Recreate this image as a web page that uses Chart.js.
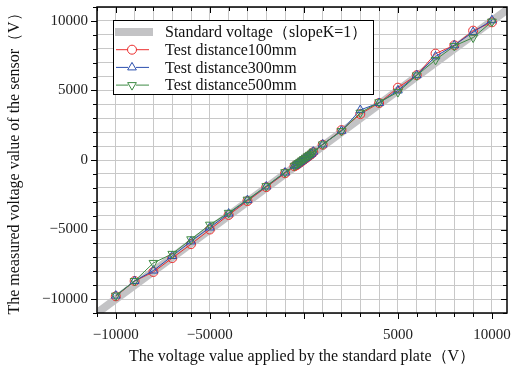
<!DOCTYPE html>
<html>
<head>
<meta charset="utf-8">
<script src="https://cdn.jsdelivr.net/npm/chart.js@4/dist/chart.umd.min.js"></script>
<style>
  body { margin: 0; background: #fff; }
  canvas { display: block; }
</style>
</head>
<body>
<canvas id="myChart" width="513" height="370"></canvas>
<script>
// applied voltage (x)
const xValues = [-10000, -9000, -8000, -7000, -6000, -5000, -4000, -3000, -2000, -1000,
  -500, -400, -300, -200, -100, 0, 100, 200, 300, 400, 500,
  1000, 2000, 3000, 4000, 5000, 6000, 7000, 8000, 9000, 10000];

// measured voltage per test distance
const dist100 = [-9800, -8700, -8050, -7050, -6050, -5000, -3950, -2950, -1950, -950,
  -450, -380, -280, -180, -80, 20, 120, 220, 320, 420, 560,
  1100, 2150, 3300, 4100, 5200, 6100, 7650, 8250, 9300, 9900];
const dist300 = [-9750, -8700, -7950, -6900, -5850, -4850, -3850, -2880, -1900, -900,
  -420, -350, -250, -150, -50, 50, 150, 250, 350, 450, 600,
  1120, 2100, 3600, 4100, 5000, 6100, 7450, 8250, 9200, 10050];
const dist500 = [-9750, -8700, -7400, -6750, -5700, -4650, -3800, -2850, -1880, -880,
  -420, -330, -230, -130, -30, 70, 170, 270, 370, 460, 600,
  1120, 2080, 3400, 4150, 4880, 6080, 7200, 8200, 8800, 9950];

// standard line (slope K = 1)
const standardX = [-11000, 11000];
const standardY = [-11000, 11000];

const xTickValues = [-10000, -5000, 0, 5000, 10000];
const xTickLabels = ['−10000', '−50000', '', '5000', '10000'];
const yTickValues = [-10000, -5000, 0, 5000, 10000];
const yTickLabels = ['−10000', '−5000', '0', '5000', '10000'];
const xGridValues = [-11000, -10000, -9000, -8000, -7000, -6000, -5000, -4000, -3000, -2000, -1000,
  0, 1000, 2000, 3000, 4000, 5000, 6000, 7000, 8000, 9000, 10000];

const seriesNames = ['Standard voltage（slopeK=1）', 'Test distance100mm', 'Test distance300mm', 'Test distance500mm'];

const SERIF = '"Liberation Serif", "DejaVu Serif", serif';

function toPoints(xs, ys) {
  return xs.map((x, i) => ({ x: x, y: ys[i] }));
}

function drawMarker(ctx, style, rot, x, y, r) {
  ctx.beginPath();
  if (style === 'circle') {
    ctx.arc(x, y, r, 0, Math.PI * 2);
  } else {
    const s = rot ? -1 : 1;
    ctx.moveTo(x, y - s * r);
    ctx.lineTo(x + r * 0.87, y + s * r * 0.5);
    ctx.lineTo(x - r * 0.87, y + s * r * 0.5);
    ctx.closePath();
  }
  ctx.stroke();
}

// frame, tick marks and the legend box inside the plot
const framePlugin = {
  id: 'frame',
  afterDraw(chart) {
    const ctx = chart.ctx;
    const a = chart.chartArea;
    const xs = chart.scales.x, ys = chart.scales.y;
    ctx.save();
    ctx.strokeStyle = '#000';
    ctx.lineWidth = 1;
    xs.ticks.forEach(t => {
      const px = Math.round(xs.getPixelForValue(t.value)) + 0.5;
      const len = t.value % 5000 === 0 ? 6 : 4;
      ctx.beginPath();
      ctx.moveTo(px, a.bottom); ctx.lineTo(px, a.bottom + len);
      ctx.moveTo(px, a.top); ctx.lineTo(px, a.top + len);
      ctx.stroke();
    });
    ys.ticks.forEach(t => {
      const py = Math.round(ys.getPixelForValue(t.value)) + 0.5;
      const len = t.value % 5000 === 0 ? 6 : 4;
      ctx.beginPath();
      ctx.moveTo(a.left, py); ctx.lineTo(a.left - len, py);
      ctx.moveTo(a.right, py); ctx.lineTo(a.right - len, py);
      ctx.stroke();
    });
    ctx.lineWidth = 1.5;
    ctx.strokeRect(a.left, a.top, a.right - a.left, a.bottom - a.top);

    // legend
    const bx = 113, by = 20, bw = 260, bh = 74;
    ctx.fillStyle = '#fff';
    ctx.fillRect(bx, by, bw, bh);
    ctx.lineWidth = 1;
    ctx.strokeStyle = '#000';
    ctx.strokeRect(bx + 0.5, by + 0.5, bw, bh);
    const ds = chart.data.datasets;
    ctx.font = '16px ' + SERIF;
    ctx.textBaseline = 'middle';
    for (let i = 0; i < 4; i++) {
      const cy = by + 12 + i * 17.7;
      const d = ds[i];
      ctx.strokeStyle = d.borderColor;
      if (i === 0) {
        ctx.lineWidth = 8;
        ctx.beginPath(); ctx.moveTo(115, cy); ctx.lineTo(153, cy); ctx.stroke();
      } else {
        ctx.lineWidth = 1;
        ctx.beginPath(); ctx.moveTo(116, cy); ctx.lineTo(149, cy); ctx.stroke();
        ctx.fillStyle = '#fff';
        ctx.beginPath(); ctx.arc(132, cy, 4, 0, Math.PI * 2); ctx.fill();
        drawMarker(ctx, d.pointStyle, d.pointRotation, 132, cy, d.pointRadius);
      }
      ctx.fillStyle = '#111';
      ctx.fillText(seriesNames[i], 165, cy + 1);
    }
    ctx.restore();
  }
};

const ctx = document.getElementById('myChart');
new Chart(ctx, {
  type: 'line',
  data: {
    datasets: [{
      label: seriesNames[0],
      data: toPoints(standardX, standardY),
      borderColor: '#c3c3c5',
      borderWidth: 8,
      pointRadius: 0,
      order: 4
    }, {
      label: seriesNames[1],
      data: toPoints(xValues, dist100),
      borderColor: '#ec2f2f',
      borderWidth: 1,
      pointStyle: 'circle',
      pointRadius: 4.5,
      pointBorderWidth: 1,
      pointBackgroundColor: 'rgba(0,0,0,0)',
      order: 3
    }, {
      label: seriesNames[2],
      data: toPoints(xValues, dist300),
      borderColor: '#2b4fae',
      borderWidth: 1,
      pointStyle: 'triangle',
      pointRadius: 5,
      pointBorderWidth: 1,
      pointBackgroundColor: 'rgba(0,0,0,0)',
      order: 2
    }, {
      label: seriesNames[3],
      data: toPoints(xValues, dist500),
      borderColor: '#3e8c45',
      borderWidth: 1,
      pointStyle: 'triangle',
      pointRotation: 180,
      pointRadius: 5,
      pointBorderWidth: 1,
      pointBackgroundColor: 'rgba(0,0,0,0)',
      order: 1
    }]
  },
  options: {
    responsive: false,
    animation: false,
    layout: { padding: { top: 7, right: 4, left: 0, bottom: 0 } },
    plugins: { legend: { display: false }, tooltip: { enabled: false } },
    scales: {
      x: {
        type: 'linear',
        min: -11000, max: 10800,
        afterBuildTicks(scale) { scale.ticks = xGridValues.map(v => ({ value: v })); },
        afterFit(scale) { scale.height = 57; scale.paddingLeft = 0; scale.paddingRight = 0; },
        grid: { color: '#c8c8c8', lineWidth: 1, drawTicks: false },
        border: { display: false },
        ticks: {
          autoSkip: false, maxRotation: 0, padding: 13,
          color: '#222', font: { family: SERIF, size: 15 },
          callback: (v) => { const i = xTickValues.indexOf(v); return i >= 0 ? xTickLabels[i] : ''; }
        },
        title: {
          display: true, text: 'The voltage value applied by the standard plate（V）',
          color: '#111', font: { family: SERIF, size: 16 }, padding: { top: 0, bottom: 4 }
        }
      },
      y: {
        type: 'linear',
        min: -11000, max: 11000,
        afterFit(scale) { scale.width = 97; scale.paddingTop = 0; scale.paddingBottom = 0; },
        grid: { color: '#c8c8c8', lineWidth: 1, drawTicks: false },
        border: { display: false },
        ticks: {
          stepSize: 1000, includeBounds: false, autoSkip: false, padding: 9,
          color: '#222', font: { family: SERIF, size: 15 },
          callback: (v) => { const i = yTickValues.indexOf(v); return i >= 0 ? yTickLabels[i] : ''; }
        },
        title: {
          display: true, text: 'The measured voltage value of the sensor（V）',
          color: '#111', font: { family: SERIF, size: 16 }, padding: { top: 5, bottom: 0 }
        }
      }
    }
  },
  plugins: [framePlugin]
});
</script>
</body>
</html>
